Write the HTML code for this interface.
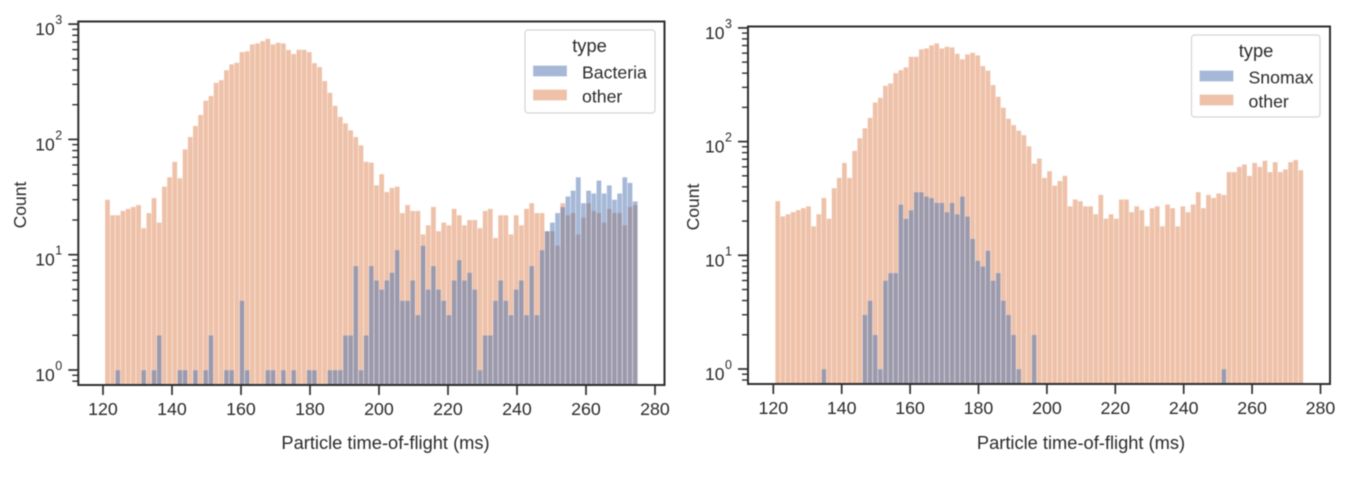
<!DOCTYPE html>
<html lang="en">
<head>
<meta charset="utf-8">
<title>Particle time-of-flight histograms</title>
<style>
html,body{margin:0;padding:0;background:#fff;width:1348px;height:478px;overflow:hidden}
svg{display:block;filter:blur(.5px)}
text{font-family:"Liberation Sans",sans-serif;fill:#2a2a2a}
</style>
</head>
<body>
<svg id="figure" width="1348" height="478" viewBox="0 0 1348 478" xmlns="http://www.w3.org/2000/svg">
  <g id="panel-left"></g>
  <g id="panel-right"></g>
</svg>
<script>
var xTickLabels = [120, 140, 160, 180, 200, 220, 240, 260, 280];
var yDecades = [0, 1, 2, 3];
var binStart = 120.55;
var binWidth = 1.4995;

var bacteriaCounts = [
0,0,1,0,0,0,0,1,0,1,
2,0,0,0,1,1,0,1,0,1,
2,0,0,1,1,0,4,1,0,0,
0,1,1,0,1,0,1,0,0,1,
1,0,0,1,1,1,2,2,8,1,
2,8,6,5,6,7,11,4,4,6,
3,12,5,8,5,4,3,6,9,6,
7,5,1,2,2,4,6,4,3,5,
6,3,8,3,11,16,19,23,26,32,
36,47,28,36,34,44,34,40,30,34,
47,42,29];

var otherLeftCounts = [
30,22,22,24,25,26,27,17,23,31,
19,39,47,64,46,82,105,131,163,217,
238,310,327,398,448,462,573,581,668,681,
713,746,668,690,681,597,550,600,600,573,
459,425,321,254,196,157,138,120,105,89,
64,63,40,50,35,38,39,23,27,24,
24,15,18,26,16,19,18,25,22,18,
20,20,17,24,25,14,22,22,15,22,
18,25,28,23,23,16,16,12,28,22,
23,15,21,28,24,23,19,25,23,23,
18,26,27];

var snomaxCounts = [
0,0,0,0,0,0,0,0,0,1,
0,0,0,0,0,0,0,3,4,2,
1,6,7,7,28,21,25,36,36,33,
32,29,29,24,29,23,33,22,14,9,
8,11,6,7,4,3,2,1,0,0,
2,0,0,0,0,0,0,0,0,0,
0,0,0,0,0,0,0,0,0,0,
0,0,0,0,0,0,0,0,0,0,
0,0,0,0,0,0,0,1,0,0,
0,0,0,0,0,0,0,0,0,0,
0,0,0];

var otherRightCounts = [
30,22,23,24,25,26,27,18,23,32,
21,39,48,65,48,83,107,131,162,221,
243,310,325,401,426,450,558,558,649,661,
703,731,661,684,674,593,530,585,605,574,
462,421,315,248,199,159,140,125,114,91,
64,71,48,55,41,45,50,27,31,30,
27,27,23,34,21,23,21,31,31,24,
27,25,18,26,27,18,28,26,18,27,
24,28,36,26,34,32,35,34,54,54,
60,63,50,65,60,68,54,66,54,57,
66,69,56];

var SVGNS = 'http://www.w3.org/2000/svg';

function make(tag, parent, attrs, content) {
  var el = document.createElementNS(SVGNS, tag);
  for (var k in attrs) el.setAttribute(k, attrs[k]);
  if (content !== undefined) el.textContent = content;
  parent.appendChild(el);
  return el;
}

function drawPanel(parent, cfg) {
  function xScale(v) { return cfg.x120 + (v - 120) * cfg.xPerUnit; }
  function yScale(c) { return cfg.y1 - Math.log10(c) * cfg.decade; }

  function drawSeries(counts, color, name) {
    for (var i = 0; i < counts.length; i++) {
      if (counts[i] <= 0) continue;
      var x0 = xScale(binStart + i * binWidth);
      var x1 = xScale(binStart + (i + 1) * binWidth);
      var top = yScale(counts[i]);
      var bar = make('rect', parent, {
        x: x0 + 0.15, y: top, width: x1 - x0 - 0.3, height: cfg.bottom - top,
        fill: color, 'fill-opacity': 0.5,
        stroke: '#fff', 'stroke-opacity': 0.25, 'stroke-width': 0.7
      });
      
      
    }
  }
  drawSeries(cfg.other, '#dd8452', 'bar-other');
  drawSeries(cfg.target, '#4c72b0', 'bar-' + cfg.targetName.toLowerCase());

  // spines
  var frame = make('rect', parent, {
    x: cfg.left, y: cfg.top, width: cfg.right - cfg.left, height: cfg.bottom - cfg.top,
    fill: 'none', stroke: '#2e2e2e', 'stroke-width': 2
  });
  
  

  // x ticks
  xTickLabels.forEach(function (v) {
    var px = xScale(v);
    var tick = make('line', parent, {
      x1: px, x2: px, y1: cfg.bottom, y2: cfg.bottom + 10, stroke: '#2e2e2e', 'stroke-width': 1.7
    });
    
    
    var label = make('text', parent, {
      x: px, y: cfg.bottom + 30, 'font-size': 17.8, 'text-anchor': 'middle'
    }, String(v));
    
    
  });

  // y ticks
  yDecades.forEach(function (d) {
    var py = yScale(Math.pow(10, d));
    var tick = make('line', parent, {
      x1: cfg.left - 10, x2: cfg.left, y1: py, y2: py, stroke: '#2e2e2e', 'stroke-width': 1.7
    });
    
    
    var base = make('text', parent, {
      x: cfg.left - 43, y: py + 11, 'font-size': 17.5
    }, '10');
    
    
    var sup = make('text', parent, {
      x: cfg.left - 23, y: py, 'font-size': 12.5
    }, String(d));
    
    
  });
  [0, 1, 2].forEach(function (d) {
    for (var m = 2; m <= 9; m++) {
      var py = yScale(m * Math.pow(10, d));
      var minor = make('line', parent, {
        x1: cfg.left - 6, x2: cfg.left, y1: py, y2: py, stroke: '#2e2e2e', 'stroke-width': 1.4
      });
      
      
    }
  });
  var minorBelow = [0.7, 0.8, 0.9];
  minorBelow.forEach(function (c) {
    var py = yScale(c);
    if (py < cfg.bottom) {
      var t = make('line', parent, {
        x1: cfg.left - 6, x2: cfg.left, y1: py, y2: py, stroke: '#2e2e2e', 'stroke-width': 1.4
      });
      
      
    }
  });

  // axis titles
  var xTitle = make('text', parent, {
    x: cfg.xTitleX, y: 449, 'font-size': 18.3, 'text-anchor': 'middle'
  }, 'Particle time-of-flight (ms)');
  
  
  var yTitle = make('text', parent, {
    x: 0, y: 0, 'font-size': 17.5, 'text-anchor': 'middle',
    transform: 'translate(' + cfg.yTitleX + ' ' + cfg.yTitleY + ') rotate(-90)'
  }, 'Count');
  
  

  // legend
  var lg = cfg.legend;
  var legend = make('g', parent, {});
  
  
  var box = make('rect', legend, {
    x: lg.x, y: lg.y, width: lg.w, height: lg.h, rx: 3,
    fill: '#fff', 'fill-opacity': 0.85, stroke: '#d4d4d4', 'stroke-width': 1.2
  });
  
  
  var title = make('text', legend, {
    x: lg.x + 64.5, y: lg.y + 22, 'font-size': 18.3, 'text-anchor': 'middle'
  }, 'type');
  
  
  var sw1 = make('rect', legend, {
    x: lg.x + 8, y: lg.y + 35.5, width: 34, height: 11, fill: '#4c72b0', 'fill-opacity': 0.5,
    stroke: '#fff', 'stroke-opacity': 0.4, 'stroke-width': 0.8
  });
  
  
  var t1 = make('text', legend, {
    x: lg.x + 57, y: lg.y + 48.5, 'font-size': 17.7
  }, cfg.targetName);
  
  
  var sw2 = make('rect', legend, {
    x: lg.x + 8, y: lg.y + 59.5, width: 34, height: 11, fill: '#dd8452', 'fill-opacity': 0.5,
    stroke: '#fff', 'stroke-opacity': 0.4, 'stroke-width': 0.8
  });
  
  
  var t2 = make('text', legend, {
    x: lg.x + 57, y: lg.y + 72.5, 'font-size': 17.7
  }, 'other');
  
  
}

drawPanel(document.getElementById('panel-left'), {
  left: 78.3, right: 664.5, top: 21.5, bottom: 385,
  x120: 103, xPerUnit: 3.45, y1: 370, decade: 115.3,
  other: otherLeftCounts, target: bacteriaCounts, targetName: 'Bacteria',
  xTitleX: 385.5, yTitleX: 26, yTitleY: 205,
  legend: { x: 525, y: 30, w: 130, h: 83 }
});

drawPanel(document.getElementById('panel-right'), {
  left: 748, right: 1330, top: 26.5, bottom: 384,
  x120: 773.3, xPerUnit: 3.42, y1: 369, decade: 113.7,
  other: otherRightCounts, target: snomaxCounts, targetName: 'Snomax',
  xTitleX: 1081, yTitleX: 699, yTitleY: 207,
  legend: { x: 1191.5, y: 35, w: 128.5, h: 82 }
});
</script>
</body>
</html>
